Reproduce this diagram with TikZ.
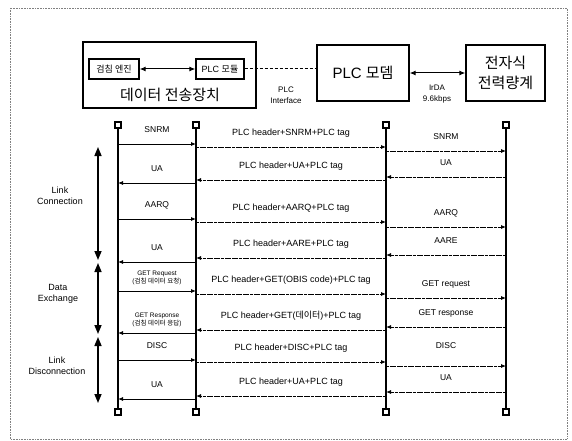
\documentclass[tikz,border=0pt]{standalone}
\usepackage{fontspec}
\setmainfont{Liberation Sans}
\newfontfamily\kr{Noto Sans CJK KR}
\usetikzlibrary{positioning,arrows.meta,calc}
\tikzset{
  unitbox/.style={draw,line width=1.4pt,inner sep=0pt,align=center},
  lifehead/.style={draw,line width=1.1pt,fill=white,minimum size=6pt,inner sep=0pt},
  lifeline/.style={line width=1.3pt},
  msg/.style={draw,-{Latex[length=5pt,width=4pt]},line width=0.8pt},
  msgd/.style={msg,dash pattern=on 3pt off 0.6pt},
  lbl/.style={font=\fontsize{8.5}{9}\selectfont,inner sep=0pt,text height=6pt,text depth=2pt,above=9pt},
  midlbl/.style={lbl,font=\fontsize{9}{10}\selectfont},
  tinylbl/.style={font=\fontsize{6.5}{7.5}\selectfont,inner sep=0pt,align=center,above=6pt},
  phase/.style={{Triangle[length=9pt,width=7pt]}-{Triangle[length=9pt,width=7pt]},line width=1.5pt},
  phaselbl/.style={font=\fontsize{9}{11}\selectfont,align=center},
  linkarrow/.style={{Latex[length=6pt,width=5pt]}-{Latex[length=6pt,width=5pt]},line width=1pt},
}

\begin{document}
\begin{tikzpicture}[x=1pt,y=-1pt]
\useasboundingbox (0,0) rectangle (572,441);
\draw[gray,densely dotted,line width=0.6pt] (10,8) rectangle (567,439);

% units
\node[unitbox,minimum width=173pt,minimum height=66pt] (device) at (169.5,75) {};
\node[font=\kr\fontsize{15}{16}\selectfont] (devname) at (170,95) {데이터 전송장치};
\node[unitbox,minimum width=50pt,minimum height=20pt,font=\kr\fontsize{9}{9}\selectfont] (engine) at (114,69) {검침 엔진};
\node[unitbox,minimum width=48pt,minimum height=20pt,font=\fontsize{9}{9}\selectfont] (plcmod) at (220,69) {PLC {\kr 모듈}};
\node[unitbox,minimum width=92pt,minimum height=56pt,font=\fontsize{15}{16}\selectfont] (modem) at (363,73) {PLC {\kr 모뎀}};
\node[unitbox,minimum width=79pt,minimum height=56pt,font=\kr\fontsize{15}{20}\selectfont] (meter) at (505.5,73) {전자식\\전력량계};

\draw[linkarrow] (engine) -- (plcmod);
\draw[densely dashed,line width=1pt] (plcmod.east) -- (plcmod.east -| modem.west);
\draw[linkarrow] (modem) -- (meter);
\node[font=\fontsize{8}{11}\selectfont,align=center] (plcif) at (286,95) {PLC\\Interface};
\node[font=\fontsize{8}{11}\selectfont,align=center] (irda) at (437,94) {IrDA\\9.6kbps};

% lifelines
\node[lifehead] (a0) at (118,125) {};
\node[lifehead] (a9) at (118,412) {};
\node[lifehead] (b0) at (196,125) {};
\node[lifehead] (b9) at (196,412) {};
\node[lifehead] (c0) at (386,125) {};
\node[lifehead] (c9) at (386,412) {};
\node[lifehead] (d0) at (506,125) {};
\node[lifehead] (d9) at (506,412) {};
\draw[lifeline] (a0) -- (a9);
\draw[lifeline] (b0) -- (b9);
\draw[lifeline] (c0) -- (c9);
\draw[lifeline] (d0) -- (d9);

% data transfer unit <-> PLC module
\path
(a0 |- 0,144) edge[msg] node[lbl] {SNRM} (b0 |- 0,144)
(b0 |- 0,183) edge[msg] node[lbl] {UA} (a0 |- 0,183)
(a0 |- 0,219) edge[msg] node[lbl] {AARQ} (b0 |- 0,219)
(b0 |- 0,262) edge[msg] node[lbl] {UA} (a0 |- 0,262)
(a0 |- 0,291) edge[msg] node[tinylbl] {GET Request\\({\kr 검침 데이터 요청})} (b0 |- 0,291)
(b0 |- 0,333) edge[msg] node[tinylbl] {GET Response\\({\kr 검침 데이터 응답})} (a0 |- 0,333)
(a0 |- 0,360) edge[msg] node[lbl] {DISC} (b0 |- 0,360)
(b0 |- 0,399) edge[msg] node[lbl] {UA} (a0 |- 0,399);

% PLC module <-> PLC modem
\path
(b0 |- 0,147) edge[msgd] node[midlbl] {PLC header+SNRM+PLC tag} (c0 |- 0,147)
(c0 |- 0,180) edge[msgd] node[midlbl] {PLC header+UA+PLC tag} (b0 |- 0,180)
(b0 |- 0,222) edge[msgd] node[midlbl] {PLC header+AARQ+PLC tag} (c0 |- 0,222)
(c0 |- 0,258) edge[msgd] node[midlbl] {PLC header+AARE+PLC tag} (b0 |- 0,258)
(b0 |- 0,294) edge[msgd] node[midlbl] {PLC header+GET(OBIS code)+PLC tag} (c0 |- 0,294)
(c0 |- 0,330) edge[msgd] node[midlbl] {PLC header+GET({\kr 데이터})+PLC tag} (b0 |- 0,330)
(b0 |- 0,362) edge[msgd] node[midlbl] {PLC header+DISC+PLC tag} (c0 |- 0,362)
(c0 |- 0,396) edge[msgd] node[midlbl] {PLC header+UA+PLC tag} (b0 |- 0,396);

% PLC modem <-> meter
\path
(c0 |- 0,151) edge[msgd] node[lbl] {SNRM} (d0 |- 0,151)
(d0 |- 0,177) edge[msgd] node[lbl] {UA} (c0 |- 0,177)
(c0 |- 0,227) edge[msgd] node[lbl] {AARQ} (d0 |- 0,227)
(d0 |- 0,255) edge[msgd] node[lbl] {AARE} (c0 |- 0,255)
(c0 |- 0,298) edge[msgd] node[lbl] {GET request} (d0 |- 0,298)
(d0 |- 0,327) edge[msgd] node[lbl] {GET response} (c0 |- 0,327)
(c0 |- 0,366) edge[msgd] node[lbl,above=15pt] {DISC} (d0 |- 0,366)
(d0 |- 0,392) edge[msgd] node[lbl] {UA} (c0 |- 0,392);

% phases
\coordinate (p1) at (98,147);
\coordinate (p2) at (98,260);
\coordinate (p3) at (98,263);
\coordinate (p4) at (98,334);
\coordinate (p5) at (98,337);
\coordinate (p6) at (98,403);
\draw[phase] (p1) -- (p2);
\draw[phase] (p3) -- (p4);
\draw[phase] (p5) -- (p6);
\node[phaselbl] (lconn) at (60,196) {Link\\Connection};
\node[phaselbl] (dexch) at (58,294) {Data\\Exchange};
\node[phaselbl] (ldisc) at (57,366) {Link\\Disconnection};

\end{tikzpicture}
\end{document}
